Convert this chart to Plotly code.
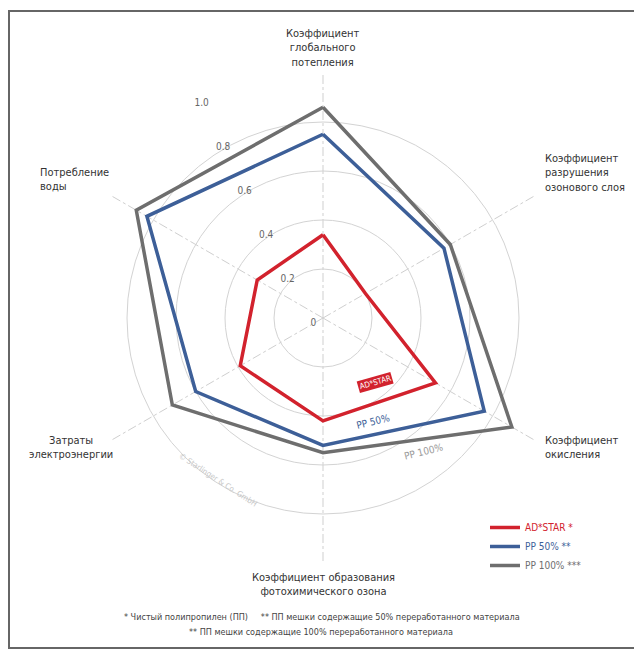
import plotly.graph_objects as go

W, H = 642, 653
OFF = 8  # page body margin offset

categories = [
    "Коэффициент глобального потепления",
    "Коэффициент разрушения озонового слоя",
    "Коэффициент окисления",
    "Коэффициент образования фотохимического озона",
    "Затраты электроэнергии",
    "Потребление воды",
]
category_labels = [
    "Коэффициент<br>глобального<br>потепления",
    "Коэффициент<br>разрушения<br>озонового слоя",
    "Коэффициент<br>окисления",
    "Коэффициент образования<br>фотохимического озона",
    "Затраты<br>электроэнергии",
    "Потребление<br>воды",
]
adstar = [0.34, 0.20, 0.53, 0.42, 0.39, 0.31]
pp50 = [0.75, 0.57, 0.76, 0.52, 0.60, 0.83]
pp100 = [0.86, 0.60, 0.89, 0.55, 0.71, 0.88]

tick_vals = [0, 0.2, 0.4, 0.6, 0.8, 1.0]
tick_text = ["0", "0.2", "0.4", "0.6", "0.8", "1.0"]

series_names = ["AD*STAR *", "PP 50% **", "PP 100% ***"]
RED, BLUE, GREY = "#d2222d", "#3d5f98", "#6e6e6e"

FONT = "Liberation Sans Narrow, DejaVu Sans Condensed, Arial Narrow, sans-serif"


def px(x):
    return (x - OFF) / W


def py(y):
    return 1 - (y - OFF) / H


def closed(v):
    return list(v) + [v[0]]


fig = go.Figure()
for vals, name, col in [(adstar, series_names[0], RED),
                        (pp50, series_names[1], BLUE),
                        (pp100, series_names[2], GREY)]:
    fig.add_trace(go.Scatterpolar(
        r=closed(vals), theta=closed(categories), mode="lines",
        line=dict(color=col, width=3.5),
        name=f"<span style='color:{col}'>{name}</span>",
        hoverinfo="skip",
    ))

cx, cy, R = 323, 318, 245
fig.update_layout(
    width=W, height=H,
    margin=dict(l=0, r=0, t=0, b=0),
    paper_bgcolor="white",
    plot_bgcolor="white",
    font=dict(family=FONT, color="#333"),
    polar=dict(
        domain=dict(x=[px(cx - R), px(cx + R)], y=[py(cy + R), py(cy - R)]),
        bgcolor="white",
        angularaxis=dict(
            direction="clockwise", rotation=90,
            showticklabels=False, ticks="",
            showline=False,
            gridcolor="#cfcfcf", griddash="dashdot", gridwidth=1,
        ),
        radialaxis=dict(
            range=[0, 1.0], angle=116, tickangle=116, side="counterclockwise",
            tickvals=tick_vals, ticktext=tick_text,
            tickfont=dict(size=10, color="#666", family=FONT),
            showline=False, ticks="",
            gridcolor="#d3d3d3", gridwidth=1,
        ),
    ),
    showlegend=True,
    legend=dict(
        x=px(485), y=py(513), xanchor="left", yanchor="top",
        font=dict(size=10, family=FONT), itemwidth=30,
        bgcolor="rgba(0,0,0,0)", tracegroupgap=0,
    ),
)

ann = []
label_pos = [
    (323, 25, "center", "center"),
    (543, 150, "left", "left"),
    (543, 432, "left", "left"),
    (323, 569, "center", "center"),
    (71, 432, "center", "center"),
    (38, 164, "left", "left"),
]
for text, (x, y, xa, al) in zip(category_labels, label_pos):
    ann.append(dict(x=px(x), y=py(y), xref="paper", yref="paper", text=text,
                    showarrow=False, xanchor=xa, yanchor="top", align=al,
                    font=dict(size=11, color="#333", family=FONT)))


def note(x, y, text, size, color, angle=0, **kw):
    ann.append(dict(x=px(x), y=py(y), xref="paper", yref="paper", text=text,
                    showarrow=False, textangle=angle,
                    xanchor="center", yanchor="middle",
                    font=dict(size=size, color=color, family=FONT), **kw))


note(375, 382, "AD*STAR", 8, "white", -16, bgcolor=RED, borderpad=1)
note(373, 421, "PP 50%", 10, BLUE, -14)
note(424, 452, "PP 100%", 10, "#999", -14)
note(217, 480, "© Starlinger & Co. GmbH", 8, "#c8c8c8", 33)
note(322, 617, "* Чистый полипропилен (ПП)     ** ПП мешки содержащие 50% переработанного материала", 9, "#444")
note(321, 632, "** ПП мешки содержащие 100% переработанного материала", 9, "#444")
fig.update_layout(annotations=ann)

fig.add_shape(type="rect", xref="paper", yref="paper",
              x0=px(9), x1=px(636), y0=py(648), y1=py(11),
              line=dict(color="#666", width=2), fillcolor="rgba(0,0,0,0)")

fig.write_html("out.html")
